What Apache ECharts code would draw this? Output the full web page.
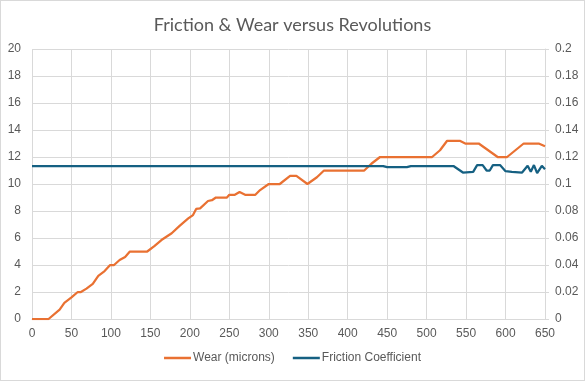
<!DOCTYPE html>
<html><head><meta charset="utf-8">
<script src="https://cdn.jsdelivr.net/npm/echarts@6/dist/echarts.min.js"></script>
<style>html,body{margin:0;padding:0;background:#fff;}#c{width:585px;height:381px;box-sizing:border-box;border:1px solid #d9d9d9;}</style>
</head><body><div id="c"></div>
<script>
const title = 'Friction & Wear versus Revolutions';
const wearName = 'Wear (microns)';
const frictionName = 'Friction Coefficient';
const wearRev = [0,21,35,41,50,58,62,69,77,84,92,99,104,111,118,124,146,155,164,177,187,198,204,208,213,223,228,233,247,250,257,263,270,283,289,300,314,327,335,349,361,370,421,430,441,507,517,526,542,549,566,590,602,623,642,650];
const wear = [0,0,0.7,1.2,1.6,2.0,2.0,2.25,2.6,3.2,3.55,4.0,4.0,4.37,4.6,5.0,5.0,5.4,5.85,6.35,6.9,7.45,7.7,8.15,8.2,8.74,8.8,9.0,9.0,9.2,9.2,9.4,9.2,9.2,9.55,10.0,10.0,10.6,10.6,10.0,10.5,11.0,11.0,11.5,12.0,12.0,12.5,13.2,13.2,13.0,13.0,12.0,12.0,13.0,13.0,12.8];
const frictionRev = [0,445,450,475,480,534,546,559,564,571,576,580,584,593,600,608,621,628,632,636,640,646,650];
const friction = [0.1133,0.1133,0.1125,0.1125,0.1133,0.1133,0.1085,0.109,0.114,0.114,0.110,0.110,0.114,0.114,0.1095,0.109,0.1085,0.1135,0.109,0.114,0.108,0.1135,0.111];
const xTicks = {min:0,max:650,interval:50};
const yLeft = {min:0,max:20,interval:2};
const yRight = {min:0,max:0.2,interval:0.02};

const grid = '#d9d9d9', txt = '#595959', font = 'Liberation Sans';
const chart = echarts.init(document.getElementById('c'), null, {renderer:'canvas'});
chart.setOption({
  animation:false,
  backgroundColor:'#fff',
  title:{text:title,left:'center',top:10,textStyle:{fontFamily:'Lato',fontSize:18,fontWeight:'normal',color:txt}},
  legend:{bottom:11,left:'center',icon:'rect',itemWidth:27,itemHeight:2.5,itemGap:18,textStyle:{fontFamily:font,fontSize:12,color:txt,padding:[0,0,0,-3]},
    data:[wearName,frictionName]},
  grid:{left:31,right:39,top:48,bottom:61,containLabel:false},
  xAxis:{type:'value',min:xTicks.min,max:xTicks.max,interval:xTicks.interval,
    axisLine:{show:true,lineStyle:{color:grid}},axisTick:{show:false},
    splitLine:{show:true,lineStyle:{color:grid}},
    axisLabel:{fontFamily:font,fontSize:12,color:txt,margin:9}},
  yAxis:[
    {type:'value',min:yLeft.min,max:yLeft.max,interval:yLeft.interval,
      axisLine:{show:false},axisTick:{show:false},
      splitLine:{show:true,lineStyle:{color:grid}},
      axisLabel:{fontFamily:font,fontSize:12,color:txt,margin:11}},
    {type:'value',position:'right',min:yRight.min,max:yRight.max,interval:yRight.interval,
      axisLine:{show:true,lineStyle:{color:grid}},axisTick:{show:true,length:4,lineStyle:{color:grid}},
      splitLine:{show:false},
      axisLabel:{fontFamily:font,fontSize:12,color:txt,margin:10}}
  ],
  series:[
    {name:wearName,type:'line',yAxisIndex:0,symbol:'none',showSymbol:false,
      lineStyle:{color:'#E97132',width:2.25},itemStyle:{color:'#E97132'},
      data:wearRev.map((r,i)=>[r,wear[i]])},
    {name:frictionName,type:'line',yAxisIndex:1,symbol:'none',showSymbol:false,
      lineStyle:{color:'#156082',width:2.25},itemStyle:{color:'#156082'},
      data:frictionRev.map((r,i)=>[r,friction[i]])}
  ]
});
</script></body></html>
